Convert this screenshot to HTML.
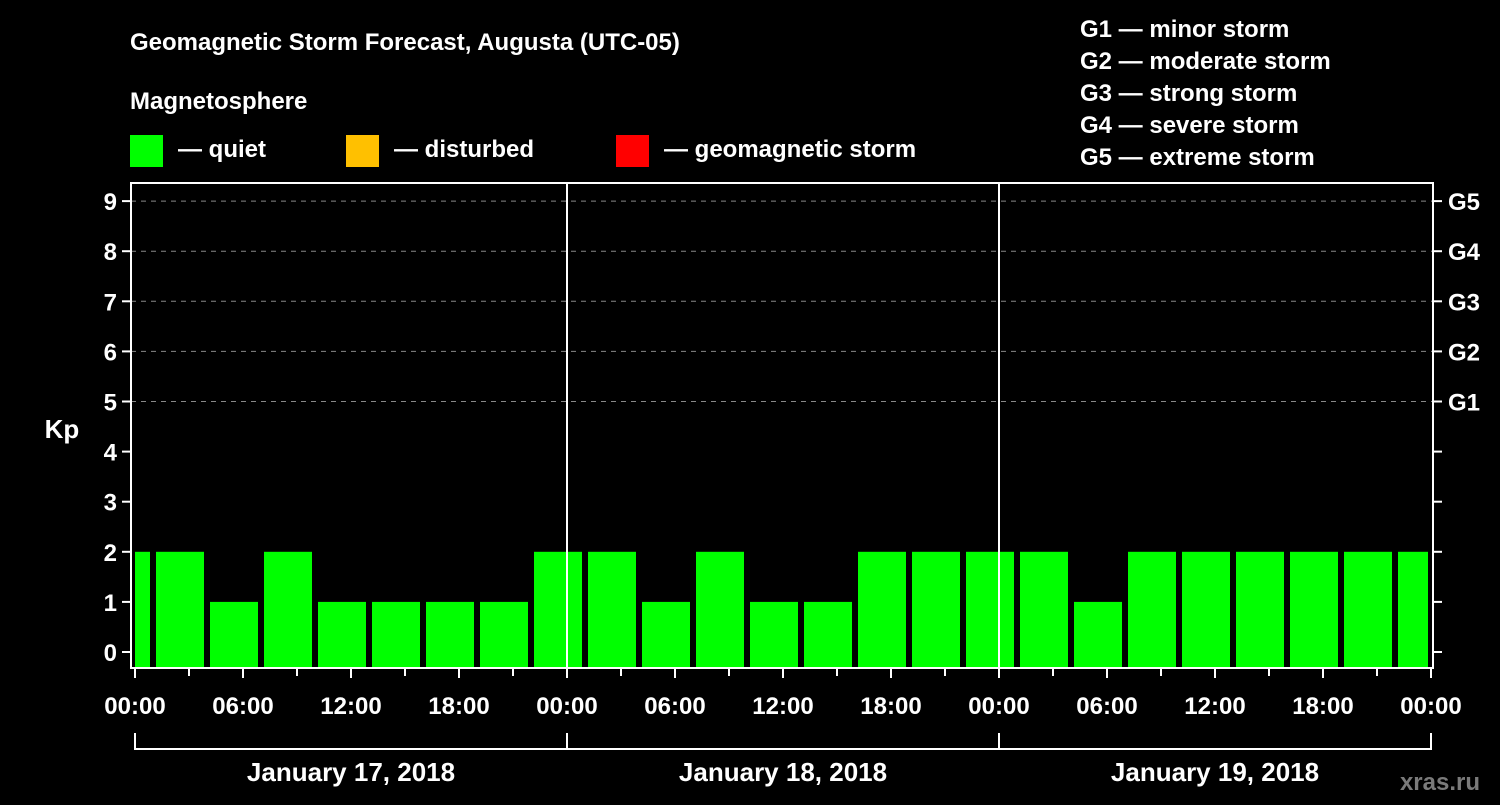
<!DOCTYPE html>
<html><head><meta charset="utf-8"><style>
body{margin:0;background:#000;width:1500px;height:800px;overflow:hidden}
svg text{font-family:"Liberation Sans",sans-serif;font-weight:bold;fill:#fff}
</style></head><body>
<svg id="c" width="1500" height="800">
<rect width="1500" height="800" fill="#000"/>
<text x="130" y="50" font-size="24">Geomagnetic Storm Forecast, Augusta (UTC-05)</text>
<text x="130" y="109" font-size="24">Magnetosphere</text>
<g><rect x="130" y="135" width="33" height="32" fill="#00ff00"/><text x="178" y="157" font-size="24">— quiet</text></g>
<g><rect x="346" y="135" width="33" height="32" fill="#ffc000"/><text x="394" y="157" font-size="24">— disturbed</text></g>
<g><rect x="616" y="135" width="33" height="32" fill="#ff0000"/><text x="664" y="157" font-size="24">— geomagnetic storm</text></g>
<g font-size="24">
<text x="1080" y="37">G1 — minor storm</text>
<text x="1080" y="69">G2 — moderate storm</text>
<text x="1080" y="101">G3 — strong storm</text>
<text x="1080" y="133">G4 — severe storm</text>
<text x="1080" y="165">G5 — extreme storm</text>
</g>
<text x="62" y="438" font-size="26" text-anchor="middle">Kp</text>
<text x="1480" y="790" font-size="24" text-anchor="end" fill="#777" style="fill:#7a7a7a">xras.ru</text>
<g id="grid"></g><g id="bars"></g><g id="axes"></g>
</svg>
<script>
const values=[2,2,1,2,1,1,1,1,2,2,1,2,1,1,2,2,2,2,1,2,2,2,2,2,2];
const yTicks=[0,1,2,3,4,5,6,7,8,9];
const gLabels=["G1","G2","G3","G4","G5"];
const xTickLabels=["00:00","06:00","12:00","18:00","00:00","06:00","12:00","18:00","00:00","06:00","12:00","18:00","00:00"];
const dayLabels=["January 17, 2018","January 18, 2018","January 19, 2018"];
const binStartHour=-2, binHours=3;
const L=131,R=1433,T=183,B=668,X0=135,PXH=18;
const x=h=>X0+h*PXH, y=v=>652-v*50.1;
const NS="http://www.w3.org/2000/svg";
function mk(t,a,p){const e=document.createElementNS(NS,t);for(const k in a)e.setAttribute(k,a[k]);p.appendChild(e);return e;}
const grid=document.getElementById('grid'),bars=document.getElementById('bars'),axes=document.getElementById('axes');
yTicks.forEach(v=>{if(v>=5){const l=mk('line',{x1:L,x2:R,y1:y(v),y2:y(v),stroke:'#888','stroke-dasharray':'5,5','stroke-width':1},grid);

}});
values.forEach((v,i)=>{let a=x(binStartHour+i*binHours)+3,b=x(binStartHour+(i+1)*binHours)-3;a=Math.max(a,x(0));b=Math.min(b,x(72)-3);
const r=mk('rect',{x:a,y:y(v),width:b-a,height:B-y(v),fill:'#00ff00'},bars);

});
mk('rect',{x:L,y:T,width:R-L,height:B-T,fill:'none',stroke:'#fff','stroke-width':2},axes);
[24,48].forEach(h=>mk('line',{x1:x(h),x2:x(h),y1:T,y2:B,stroke:'#fff','stroke-width':2},axes));
yTicks.forEach(v=>{mk('line',{x1:L-9,x2:L,y1:y(v),y2:y(v),stroke:'#fff','stroke-width':2},axes);
mk('line',{x1:R,x2:R+9,y1:y(v),y2:y(v),stroke:'#fff','stroke-width':2},axes);
const t=mk('text',{x:L-14,y:y(v)+9,'font-size':24,'text-anchor':'end'},axes);t.textContent=v;

});
gLabels.forEach((g,i)=>{const t=mk('text',{x:1448,y:y(5+i)+9,'font-size':24},axes);t.textContent=g;

});
for(let h=0;h<=72;h+=3){mk('line',{x1:x(h),x2:x(h),y1:B,y2:B+(h%6?8:10),stroke:'#fff','stroke-width':2},axes);}
xTickLabels.forEach((s,i)=>{const t=mk('text',{x:x(i*6),y:714,'font-size':24,'text-anchor':'middle'},axes);t.textContent=s;

});
mk('line',{x1:x(0),x2:x(72),y1:749,y2:749,stroke:'#fff','stroke-width':2},axes);
[0,24,48,72].forEach(h=>mk('line',{x1:x(h),x2:x(h),y1:733,y2:750,stroke:'#fff','stroke-width':2},axes));
dayLabels.forEach((s,i)=>{const t=mk('text',{x:x(i*24+12),y:781,'font-size':26,'text-anchor':'middle'},axes);t.textContent=s;

});
</script>
</body></html>
